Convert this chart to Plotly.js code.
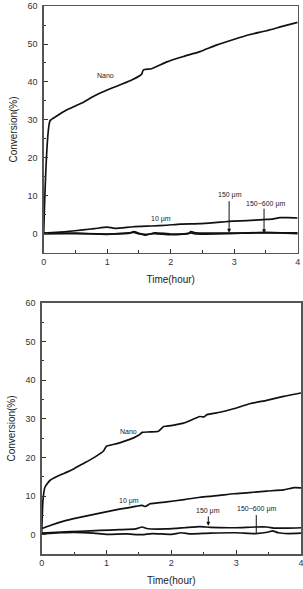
<!DOCTYPE html>
<html>
<head>
<meta charset="utf-8">
<script src="https://cdn.plot.ly/plotly-3.0.1.min.js"></script>
<style>
  html, body { margin: 0; padding: 0; background: #fff; }
  #chart { width: 303px; height: 589px; }
</style>
</head>
<body>
<div id="chart"></div>
<script>
// ---- Upper panel: conversion vs time ----
const tNanoA = [0, 0.1, 0.2, 0.36, 0.5, 0.62, 0.75, 0.89, 1.0, 1.15, 1.3, 1.41, 1.54, 1.57, 1.7, 1.94, 2.2, 2.46, 2.72, 2.99, 3.25, 3.51, 3.77, 4.0];
const nanoA  = [0, 29.8, 31.0, 32.6, 33.7, 34.6, 35.9, 37.1, 37.9, 38.9, 39.9, 40.7, 42.0, 43.2, 43.5, 45.3, 46.7, 48.0, 49.7, 51.2, 52.5, 53.5, 54.7, 55.7];

const t10A = [0, 0.2, 0.36, 0.62, 0.8, 1.0, 1.12, 1.41, 1.7, 1.94, 2.15, 2.46, 2.7, 2.98, 3.2, 3.46, 3.6, 3.72, 3.85, 4.0];
const um10A = [0.2, 0.4, 0.6, 1.1, 1.4, 1.8, 1.5, 1.9, 2.1, 2.3, 2.6, 2.7, 3.0, 3.4, 3.5, 3.8, 3.9, 4.3, 4.3, 4.2];

const tLowA = [0, 0.5, 1.0, 1.35, 1.42, 1.5, 1.6, 1.75, 2.0, 2.28, 2.32, 2.4, 2.9, 3.5, 4.0];
const um150A    = [0.2, 0.1, 0.0, 0.2, 0.6, 0.2, -0.3, 0.3, 0.0, 0.2, 0.6, 0.3, 0.2, 0.3, 0.3];
const um150600A = [0.0, 0.2, -0.1, 0.3, 0.4, 0.0, -0.1, 0.1, -0.2, 0.1, 0.3, 0.0, 0.1, 0.4, 0.1];

// ---- Lower panel ----
const tNanoB = [0, 0.02, 0.05, 0.13, 0.25, 0.39, 0.5, 0.64, 0.8, 0.9, 0.95, 1.0, 1.16, 1.29, 1.41, 1.5, 1.55, 1.67, 1.8, 1.88, 1.93, 2.19, 2.44, 2.5, 2.55, 2.75, 2.96, 3.21, 3.47, 3.73, 4.0];
const nanoB  = [0.5, 9.0, 12.3, 14.1, 15.2, 16.2, 17.1, 18.4, 19.9, 21.0, 21.6, 22.9, 23.6, 24.3, 25.0, 25.8, 26.5, 26.6, 26.8, 28.0, 28.1, 28.9, 30.6, 30.5, 31.1, 31.7, 32.6, 33.9, 34.8, 35.8, 36.7];

const t10B = [0, 0.13, 0.38, 0.64, 0.9, 1.16, 1.41, 1.55, 1.6, 1.67, 1.93, 2.2, 2.44, 2.7, 2.96, 3.2, 3.47, 3.73, 3.9, 4.0];
const um10B = [1.6, 2.4, 3.7, 4.7, 5.6, 6.5, 7.2, 7.6, 7.3, 8.0, 8.5, 9.1, 9.7, 10.1, 10.6, 10.9, 11.3, 11.6, 12.2, 12.1];

const t150B = [0, 0.3, 0.6, 0.9, 1.2, 1.45, 1.55, 1.62, 1.93, 2.2, 2.44, 2.6, 2.96, 3.3, 3.47, 3.6, 3.8, 4.0];
const um150B = [0.4, 0.7, 0.9, 1.1, 1.3, 1.5, 2.0, 1.6, 1.5, 1.8, 2.1, 1.9, 1.8, 2.0, 2.0, 1.7, 1.7, 1.8];

const t150600B = [0, 0.3, 0.5, 0.8, 1.0, 1.3, 1.55, 1.7, 2.0, 2.15, 2.3, 2.6, 3.0, 3.3, 3.5, 3.56, 3.65, 3.8, 4.0];
const um150600B = [0.2, 0.5, 0.6, 0.4, 0.1, 0.2, 0.0, 0.3, 0.1, 0.5, 0.2, 0.4, 0.5, 0.3, 0.7, 1.0, 0.5, 0.3, 0.4];

// Axis ticks
const xTicks = [0, 1, 2, 3, 4];
const yTicks = [0, 10, 20, 30, 40, 50, 60];

const FONT = 'Liberation Sans, Arial, sans-serif';
const INK = '#111';

function line(x, y, xa, ya) {
  return { x: x, y: y, xaxis: xa, yaxis: ya, type: 'scatter', mode: 'lines',
           line: { color: INK, width: 1.7, shape: 'spline', smoothing: 0.5 },
           hoverinfo: 'skip', showlegend: false };
}

const data = [
  line(tNanoA, nanoA, 'x', 'y'),
  line(t10A, um10A, 'x', 'y'),
  line(tLowA, um150A, 'x', 'y'),
  line(tLowA, um150600A, 'x', 'y'),
  line(tNanoB, nanoB, 'x2', 'y2'),
  line(t10B, um10B, 'x2', 'y2'),
  line(t150B, um150B, 'x2', 'y2'),
  line(t150600B, um150600B, 'x2', 'y2')
];

function xAxis(domain, anchor) {
  return {
    domain: domain, anchor: anchor, range: [0, 4],
    tickvals: xTicks, ticks: 'inside', ticklen: 4, tickwidth: 1, tickcolor: '#333',
    minor: { dtick: 0.5, ticks: 'inside', ticklen: 2.5, tickcolor: '#333' },
    showline: true, linecolor: '#555', linewidth: 1.5, mirror: true,
    showgrid: false, zeroline: false, ticklabeloverflow: 'allow',
    tickfont: { family: FONT, size: 9, color: '#333' },
    title: { text: 'Time(hour)', font: { family: FONT, size: 10, color: '#222' }, standoff: 9 }
  };
}
function yAxis(domain, anchor) {
  return {
    domain: domain, anchor: anchor, range: [-5, 60],
    tickvals: yTicks, ticks: 'inside', ticklen: 4, tickwidth: 1, tickcolor: '#333',
    minor: { tickvals: [5, 15, 25, 35, 45, 55], ticks: 'inside', ticklen: 2.5, tickcolor: '#333' },
    showline: true, linecolor: '#555', linewidth: 1.5, mirror: true,
    showgrid: false, zeroline: false, ticklabelstandoff: 3,
    tickfont: { family: FONT, size: 9, color: '#333' },
    title: { text: 'Conversion(%)', font: { family: FONT, size: 10, color: '#222' }, standoff: 8 }
  };
}

function label(text, x, y, xa, ya) {
  return { text: text, x: x, y: y, xref: xa, yref: ya, showarrow: false,
           font: { family: FONT, size: 7, color: '#222' } };
}
function pointer(x, y, xa, ya, len, head) {
  return { text: '', x: x, y: y, xref: xa, yref: ya, showarrow: true,
           ax: 0, ay: -len, arrowhead: head, arrowsize: 0.8, arrowwidth: 1, arrowcolor: INK, standoff: 0 };
}

const layout = {
  width: 303, height: 589,
  margin: { l: 0, r: 0, t: 0, b: 0 },
  paper_bgcolor: '#fff', plot_bgcolor: '#fff',
  xaxis: xAxis([0.1442, 0.9825], 'y'),
  yaxis: yAxis([0.5705, 0.9898], 'x'),
  xaxis2: xAxis([0.1376, 0.9934], 'y2'),
  yaxis2: yAxis([0.0594, 0.4856], 'x2'),
  annotations: [
    label('Nano', 0.98, 41.8, 'x', 'y'),
    label('10 μm', 1.84, 3.9, 'x', 'y'),
    label('150 μm', 2.93, 10.3, 'x', 'y'),
    label('150−600 μm', 3.49, 8.0, 'x', 'y'),
    pointer(2.92, 0.35, 'x', 'y', 33, 2),
    pointer(3.47, 0.2, 'x', 'y', 26, 2),
    label('Nano', 1.34, 26.8, 'x2', 'y2'),
    label('10 μm', 1.35, 8.6, 'x2', 'y2'),
    label('150 μm', 2.57, 6.1, 'x2', 'y2'),
    label('150−600 μm', 3.32, 6.55, 'x2', 'y2'),
    pointer(2.57, 2.3, 'x2', 'y2', 11, 2),
    pointer(3.31, 0.3, 'x2', 'y2', 20, 0)
  ]
};

Plotly.newPlot('chart', data, layout, { displayModeBar: false, staticPlot: true });
</script>
</body>
</html>
